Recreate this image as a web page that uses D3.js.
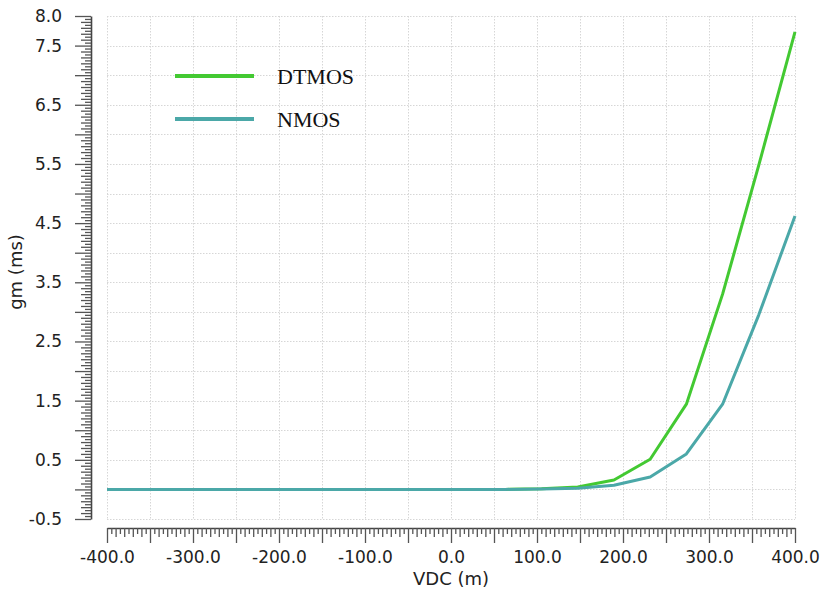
<!DOCTYPE html>
<html>
<head>
<meta charset="utf-8">
<script src="https://cdn.jsdelivr.net/npm/d3@7"></script>
<style>
  html, body { margin: 0; padding: 0; background: #fff; }
  svg { display: block; }
</style>
</head>
<body>
<svg id="chart" width="825" height="596"></svg>
<script>
// Sweep points of VDC (mV)
const vdc = [-400, -357.9, -315.8, -273.7, -231.6, -189.5, -147.4, -105.3, -63.2, -21.1,
             21.1, 63.2, 105.3, 147.4, 189.5, 231.6, 273.7, 315.8, 357.9, 400];

// Transconductance gm (mS) for each device
const gmDTMOS = [0, 0, 0, 0, 0, 0, 0, 0, 0, 0,
                 0, 0, 0.01, 0.04, 0.16, 0.51, 1.44, 3.3, 5.48, 7.73];
const gmNMOS  = [0, 0, 0, 0, 0, 0, 0, 0, 0, 0,
                 0, 0, 0.005, 0.02, 0.07, 0.21, 0.60, 1.44, 2.95, 4.62];

const seriesNames = ["DTMOS", "NMOS"];
const seriesColors = ["#43c932", "#4ba8a8"];

// Labelled tick values
const xTickLabels = [-400, -300, -200, -100, 0, 100, 200, 300, 400];
const yTickLabels = [-0.5, 0.5, 1.5, 2.5, 3.5, 4.5, 5.5, 6.5, 7.5, 8.0];

const svg = d3.select("#chart");

const plotLeft = 107, plotRight = 795, plotTop = 16, plotBottom = 519;
const yAxisX = 91, xAxisY = 528;

const x = d3.scaleLinear().domain([-400, 400]).range([plotLeft, plotRight]);
const y = d3.scaleLinear().domain([-0.5, 8.0]).range([plotBottom, plotTop]);

const near = (v, step) => Math.abs(v / step - Math.round(v / step)) < 1e-6;
// one decimal, plain hyphen for negatives
const fmt = v => v.toFixed(1);

// Dotted grid
const grid = svg.append("g").attr("stroke", "#d6d6d6").attr("stroke-width", 1)
  .attr("stroke-dasharray", "1.5,1.5").attr("fill", "none");
grid.selectAll("line.v").data(d3.range(-400, 401, 50)).join("line")
  .attr("class", "v")
  .attr("x1", d => Math.round(x(d)) + 0.5).attr("x2", d => Math.round(x(d)) + 0.5)
  .attr("y1", plotTop).attr("y2", plotBottom);
grid.selectAll("line.h").data(d3.range(-0.5, 8.01, 0.5)).join("line")
  .attr("class", "h")
  .attr("y1", d => Math.round(y(d)) + 0.5).attr("y2", d => Math.round(y(d)) + 0.5)
  .attr("x1", plotLeft).attr("x2", plotRight);

// Y axis: detached, with layered tick lengths
const yMinor = d3.range(-0.5, 8.001, 0.05).map(v => +v.toFixed(2));
const yLen = v => near(v + 0.5, 0.5) ? 16 : (near(v, 0.1) ? 10 : 6);
const yAx = svg.append("g").attr("transform", `translate(${yAxisX},0)`);
yAx.call(d3.axisLeft(y).tickValues(yMinor).tickSize(0).tickFormat(""));
yAx.select(".domain").attr("stroke", "#444").attr("stroke-width", 1.6);
yAx.selectAll(".tick line").remove();
yAx.selectAll(".tick").append("line")
  .attr("x1", 0).attr("x2", d => -yLen(d))
  .attr("stroke", "#555").attr("stroke-width", 1.3);
svg.append("g").attr("transform", `translate(${yAxisX - 29},0)`)
  .call(d3.axisLeft(y).tickValues(yTickLabels).tickSize(0).tickFormat(fmt))
  .call(g => g.select(".domain").remove())
  .selectAll("text")
  .attr("font-family", "DejaVu Sans, sans-serif").attr("font-size", 17)
  .attr("fill", "#222").attr("x", 0);

// X axis: detached, with layered tick lengths
const xMinor = d3.range(-400, 400.001, 5);
const xLen = v => near(v, 50) ? 15 : (near(v, 10) ? 9 : 6);
const xAx = svg.append("g").attr("transform", `translate(0,${xAxisY})`);
xAx.call(d3.axisBottom(x).tickValues(xMinor).tickSize(0).tickFormat(""));
xAx.select(".domain").attr("stroke", "#444").attr("stroke-width", 1.6);
xAx.selectAll(".tick line").remove();
xAx.selectAll(".tick").append("line")
  .attr("y1", 0).attr("y2", d => xLen(d))
  .attr("stroke", "#555").attr("stroke-width", 1.3);
svg.append("g").attr("transform", `translate(0,${xAxisY + 23})`)
  .call(d3.axisBottom(x).tickValues(xTickLabels).tickSize(0).tickFormat(fmt))
  .call(g => g.select(".domain").remove())
  .selectAll("text")
  .attr("font-family", "DejaVu Sans, sans-serif").attr("font-size", 17)
  .attr("fill", "#222").attr("dy", "0.71em").attr("y", 0);

// Axis titles
svg.append("text").attr("x", (plotLeft + plotRight) / 2).attr("y", 585)
  .attr("text-anchor", "middle").attr("font-family", "DejaVu Sans, sans-serif")
  .attr("font-size", 18).attr("fill", "#222").text("VDC (m)");
svg.append("text").attr("transform", "translate(22,272) rotate(-90)")
  .attr("text-anchor", "middle").attr("font-family", "DejaVu Sans, sans-serif")
  .attr("font-size", 18).attr("fill", "#222").text("gm (ms)");

// Curves
const line = d3.line().x(d => x(d[0])).y(d => y(d[1]));
const series = [gmDTMOS, gmNMOS];
series.forEach((vals, i) => {
  svg.append("path")
    .datum(vdc.map((v, k) => [v, vals[k]]))
    .attr("fill", "none").attr("stroke", seriesColors[i])
    .attr("stroke-width", 3).attr("stroke-linejoin", "round")
    .attr("d", line);
});

// Legend
const legend = svg.append("g");
seriesNames.forEach((name, i) => {
  const ly = 76 + i * 43;
  legend.append("line").attr("x1", 175).attr("x2", 254).attr("y1", ly).attr("y2", ly)
    .attr("stroke", seriesColors[i]).attr("stroke-width", 4);
  legend.append("text").attr("x", 277).attr("y", ly + 8)
    .attr("font-family", "Liberation Serif, Times New Roman, serif")
    .attr("font-size", 22).attr("fill", "#111").text(name);
});
</script>
</body>
</html>
